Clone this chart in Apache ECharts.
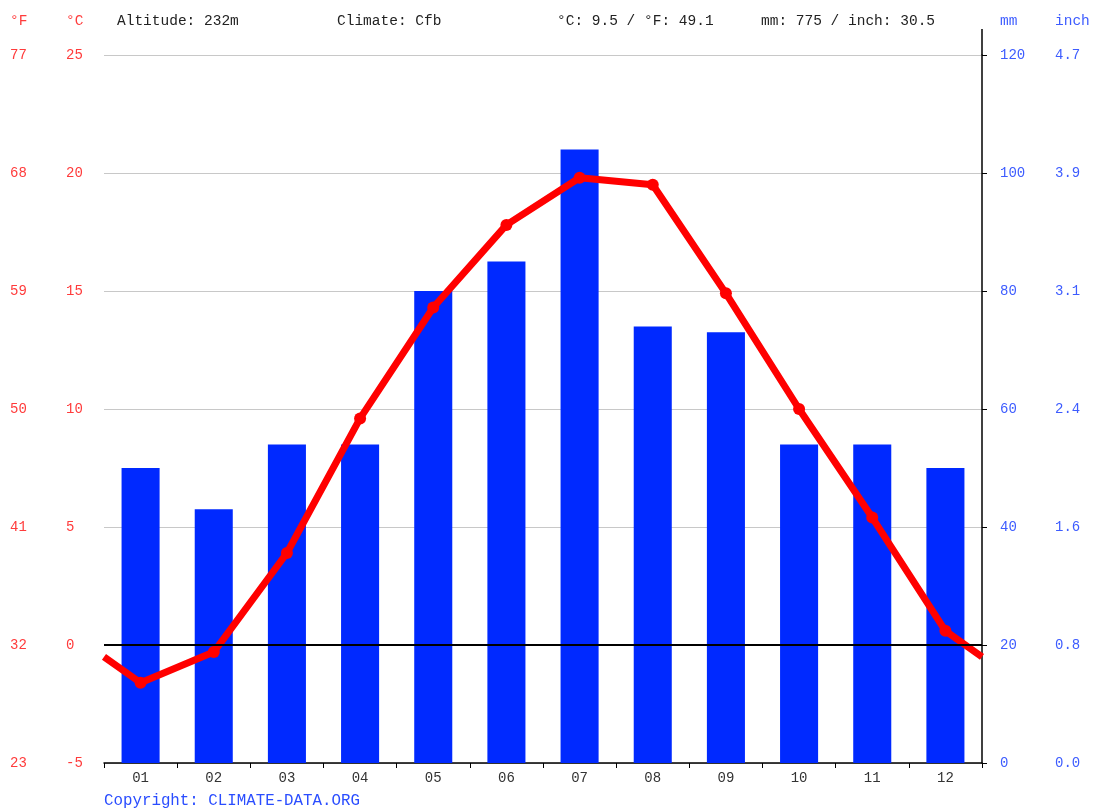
<!DOCTYPE html>
<html>
<head>
<meta charset="utf-8">
<script src="https://cdn.jsdelivr.net/npm/echarts@6/dist/echarts.min.js"></script>
<style>html,body{margin:0;padding:0;background:#fff}#c{width:1095px;height:809px}</style>
</head>
<body>
<div id="c"></div>
<script>
const months = ['01','02','03','04','05','06','07','08','09','10','11','12'];
const tempC = [-1.6, -0.3, 3.9, 9.6, 14.3, 17.8, 19.8, 19.5, 14.9, 10.0, 5.4, 0.6];
const precipMm = [50, 43, 54, 54, 80, 85, 104, 74, 73, 54, 54, 50];
const edgeTempC = -0.5;
const fahrenheitLabels = ['23','32','41','50','59','68','77'];
const inchLabels = ['0.0','0.8','1.6','2.4','3.1','3.9','4.7'];
const headerTexts = ['Altitude: 232m','Climate: Cfb','°C: 9.5 / °F: 49.1','mm: 775 / inch: 30.5'];

const FONT = '"Liberation Mono", "DejaVu Sans Mono", monospace';
const RED = '#ff3b3b', BLUE = '#3d5cff';

const lineData = [{value:[0.5, edgeTempC], symbol:'none'}]
  .concat(tempC.map((t,i)=>({value:[i+1, t]})))
  .concat([{value:[12.5, edgeTempC], symbol:'none'}]);

const chart = echarts.init(document.getElementById('c'));
const hdrX = [117, 337, 557, 761];
chart.setOption({
  animation:false,
  backgroundColor:'#fff',
  textStyle:{fontFamily:FONT},
  grid:{left:104, right:113, top:55, bottom:46, containLabel:false},
  graphic: headerTexts.map((t,i)=>({type:'text', left:hdrX[i], top:14,
      style:{text:t, font:'14.5px '+FONT, fill:'#222'}}))
    .concat([
      {type:'text', left:10, top:14, style:{text:'°F', font:'14.5px '+FONT, fill:RED}},
      {type:'text', left:66, top:14, style:{text:'°C', font:'14.5px '+FONT, fill:RED}},
      {type:'text', left:1000, top:14, style:{text:'mm', font:'14.5px '+FONT, fill:BLUE}},
      {type:'text', left:1055, top:14, style:{text:'inch', font:'14.5px '+FONT, fill:BLUE}},
      {type:'text', left:104, top:793, style:{text:'Copyright: CLIMATE-DATA.ORG', font:'15.8px '+FONT, fill:'#2a4dff'}},
      {type:'line', shape:{x1:982, y1:29, x2:982, y2:55}, style:{stroke:'#000', lineWidth:1.5}}
    ]),
  xAxis:[
    {type:'category', data:months, boundaryGap:true, position:'bottom',
     axisLine:{show:true, onZero:false, lineStyle:{color:'#000', width:1.5}},
     axisTick:{show:true, length:5, lineStyle:{color:'#000'}},
     axisLabel:{color:'#333', fontSize:14, fontFamily:FONT, margin:8},
     splitLine:{show:false}},
    {type:'value', min:0.5, max:12.5, show:false}
  ],
  yAxis:[
    {type:'value', min:-5, max:25, interval:5, position:'left',
     axisLine:{show:false}, axisTick:{show:false},
     axisLabel:{color:RED, fontSize:14, fontFamily:FONT, align:'left', margin:38},
     splitLine:{show:true, lineStyle:{color:'#c8c8c8', width:1}}},
    {type:'value', min:-5, max:25, interval:5, position:'left',
     axisLine:{show:false}, axisTick:{show:false}, splitLine:{show:false},
     axisLabel:{color:RED, fontSize:14, fontFamily:FONT, align:'left', margin:94,
       formatter:(v,i)=>fahrenheitLabels[i]}},
    {type:'value', min:0, max:120, interval:20, position:'right',
     axisLine:{show:true, onZero:false, lineStyle:{color:'#000', width:1.5}},
     axisTick:{show:true, length:5, lineStyle:{color:'#000'}},
     splitLine:{show:false},
     axisLabel:{color:BLUE, fontSize:14, fontFamily:FONT, align:'left', margin:18}},
    {type:'value', min:0, max:120, interval:20, position:'right',
     axisLine:{show:false}, axisTick:{show:false}, splitLine:{show:false},
     axisLabel:{color:BLUE, fontSize:14, fontFamily:FONT, align:'left', margin:73,
       formatter:(v,i)=>inchLabels[i]}}
  ],
  series:[
    {type:'bar', name:'mm', xAxisIndex:0, yAxisIndex:2, data:precipMm,
     barWidth:'52%', itemStyle:{color:'#0029ff'}},
    {type:'line', name:'zero', xAxisIndex:1, yAxisIndex:0, data:[], silent:true,
     markLine:{symbol:['none','none'], silent:true, label:{show:false},
       lineStyle:{color:'#000', width:2, type:'solid'}, data:[{yAxis:0}]}},
    {type:'line', name:'°C', xAxisIndex:1, yAxisIndex:0, data:lineData,
     symbol:'circle', symbolSize:12, clip:false,
     lineStyle:{color:'#ff0000', width:7}, itemStyle:{color:'#ff0000'}}
  ]
});
</script>
</body>
</html>
